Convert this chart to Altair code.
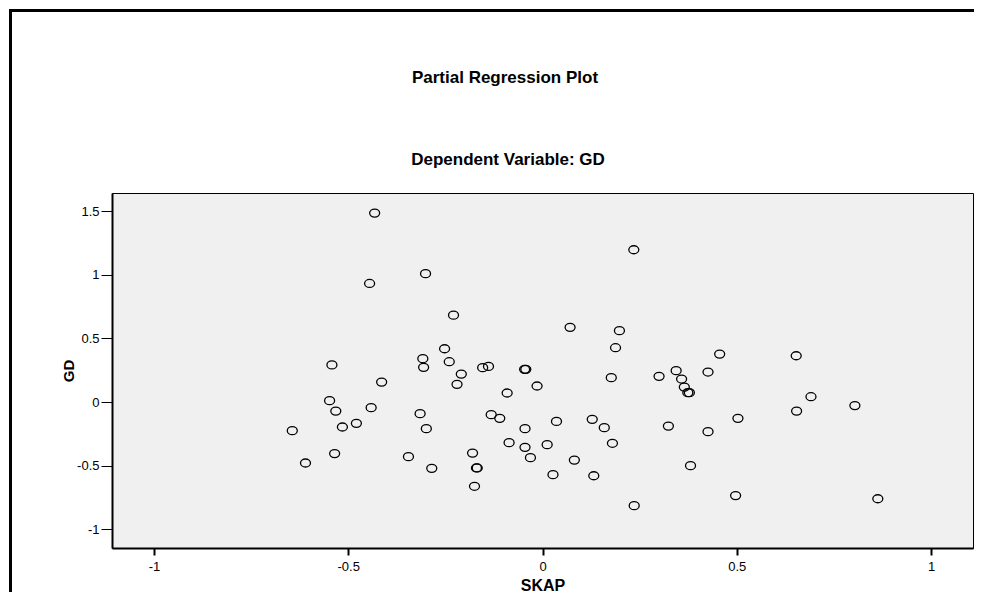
import altair as alt
import pandas as pd

# Partial residuals
skap = [-0.432, -0.301, -0.445, -0.229, -0.252, -0.308, -0.240, -0.542, -0.306, -0.154,
        -0.139, -0.046, -0.043, -0.209, -0.414, -0.220, -0.091, -0.548, -0.532, -0.441,
        -0.315, -0.132, -0.110, -0.479, -0.515, -0.644, -0.299, -0.045, -0.086, -0.045,
        -0.031, -0.535, -0.610, -0.345, -0.180, -0.285, -0.168, -0.170, -0.175, -0.014,
        0.177, 0.300, 0.344, 0.358, 0.365, 0.374, 0.378, 0.426, 0.691, 0.654,
        0.804, 0.036, 0.128, 0.159, 0.324, 0.426, 0.503, 0.012, 0.180, 0.082,
        0.027, 0.132, 0.381, 0.236, 0.497, 0.863, 0.235, 0.071, 0.198, 0.188,
        0.456, 0.653]
gd = [1.485, 1.009, 0.932, 0.683, 0.419, 0.341, 0.317, 0.292, 0.273, 0.270,
      0.280, 0.257, 0.257, 0.220, 0.157, 0.139, 0.071, 0.011, -0.071, -0.044,
      -0.091, -0.099, -0.128, -0.167, -0.196, -0.225, -0.209, -0.209, -0.319, -0.356,
      -0.437, -0.405, -0.479, -0.429, -0.401, -0.521, -0.518, -0.518, -0.662, 0.126,
      0.192, 0.202, 0.247, 0.181, 0.118, 0.074, 0.074, 0.236, 0.042, -0.071,
      -0.028, -0.152, -0.136, -0.201, -0.189, -0.233, -0.128, -0.335, -0.324, -0.456,
      -0.571, -0.579, -0.500, -0.814, -0.735, -0.760, 1.197, 0.587, 0.561, 0.427,
      0.377, 0.364]

x_ticks = [-1, -0.5, 0, 0.5, 1]
y_ticks = [-1, -0.5, 0, 0.5, 1, 1.5]
x_domain = [-1.108, 1.108]
y_domain = [-1.147, 1.643]

title_text = "Partial Regression Plot"
subtitle_text = "Dependent Variable: GD"

df = pd.DataFrame({"SKAP": skap, "GD": gd})

FONT = "Liberation Sans"
W, H = 861, 355

ellipse = "M -1 0 A 1 0.8 0 1 0 1 0 A 1 0.8 0 1 0 -1 0 Z"

points = alt.Chart(df).mark_point(
    shape=ellipse, size=100, filled=False, color="black", strokeWidth=1.3, opacity=1
).encode(
    x=alt.X("SKAP:Q",
            scale=alt.Scale(domain=x_domain, nice=False, zero=False),
            axis=alt.Axis(values=x_ticks, labelExpr="toString(datum.value)",
                          tickSize=7, tickWidth=2, tickColor="black",
                          domainColor="black", domainWidth=2,
                          labelFontSize=13, labelFont=FONT, labelColor="black",
                          labelPadding=5, grid=False,
                          title="SKAP", titleFont=FONT, titleFontSize=16,
                          titleFontWeight="bold", titleColor="black",
                          titleY=37, titleBaseline="middle")),
    y=alt.Y("GD:Q",
            scale=alt.Scale(domain=y_domain, nice=False, zero=False),
            axis=alt.Axis(values=y_ticks, labelExpr="toString(datum.value)",
                          tickSize=11, tickWidth=1, tickColor="black",
                          domainColor="black", domainWidth=2,
                          labelFontSize=13, labelFont=FONT, labelColor="black",
                          labelPadding=2, grid=False,
                          title="GD", titleFont=FONT, titleFontSize=15,
                          titleFontWeight="bold", titleColor="black",
                          titleX=-44, titleY=H / 2, titleBaseline="middle")),
)

frame = alt.Chart(alt.Data(values=[{"k": 1}])).mark_rect(
    fillOpacity=0, stroke="black", strokeWidth=3
).encode(
    x=alt.value(-101.5), x2=alt.value(900),
    y=alt.value(-182.5), y2=alt.value(440),
)

titles = alt.Chart(alt.Data(values=[
    {"t": title_text, "px": 393, "py": -115},
    {"t": subtitle_text, "px": 396, "py": -33},
])).mark_text(
    font=FONT, fontSize=17, fontWeight="bold", color="black",
    align="center", baseline="middle"
).encode(
    text="t:N",
    x=alt.X("px:Q", scale=None),
    y=alt.Y("py:Q", scale=None),
)

chart = alt.layer(frame, titles, points).properties(
    width=W, height=H,
    padding={"left": 104, "top": 185, "right": 1, "bottom": 44},
    autosize=alt.AutoSizeParams(type="none"),
).configure(background="white").configure_view(
    fill="#f0f0f0", stroke="black", strokeWidth=1
)

chart.save("out.html", embed_options={"renderer": "svg", "actions": False})
